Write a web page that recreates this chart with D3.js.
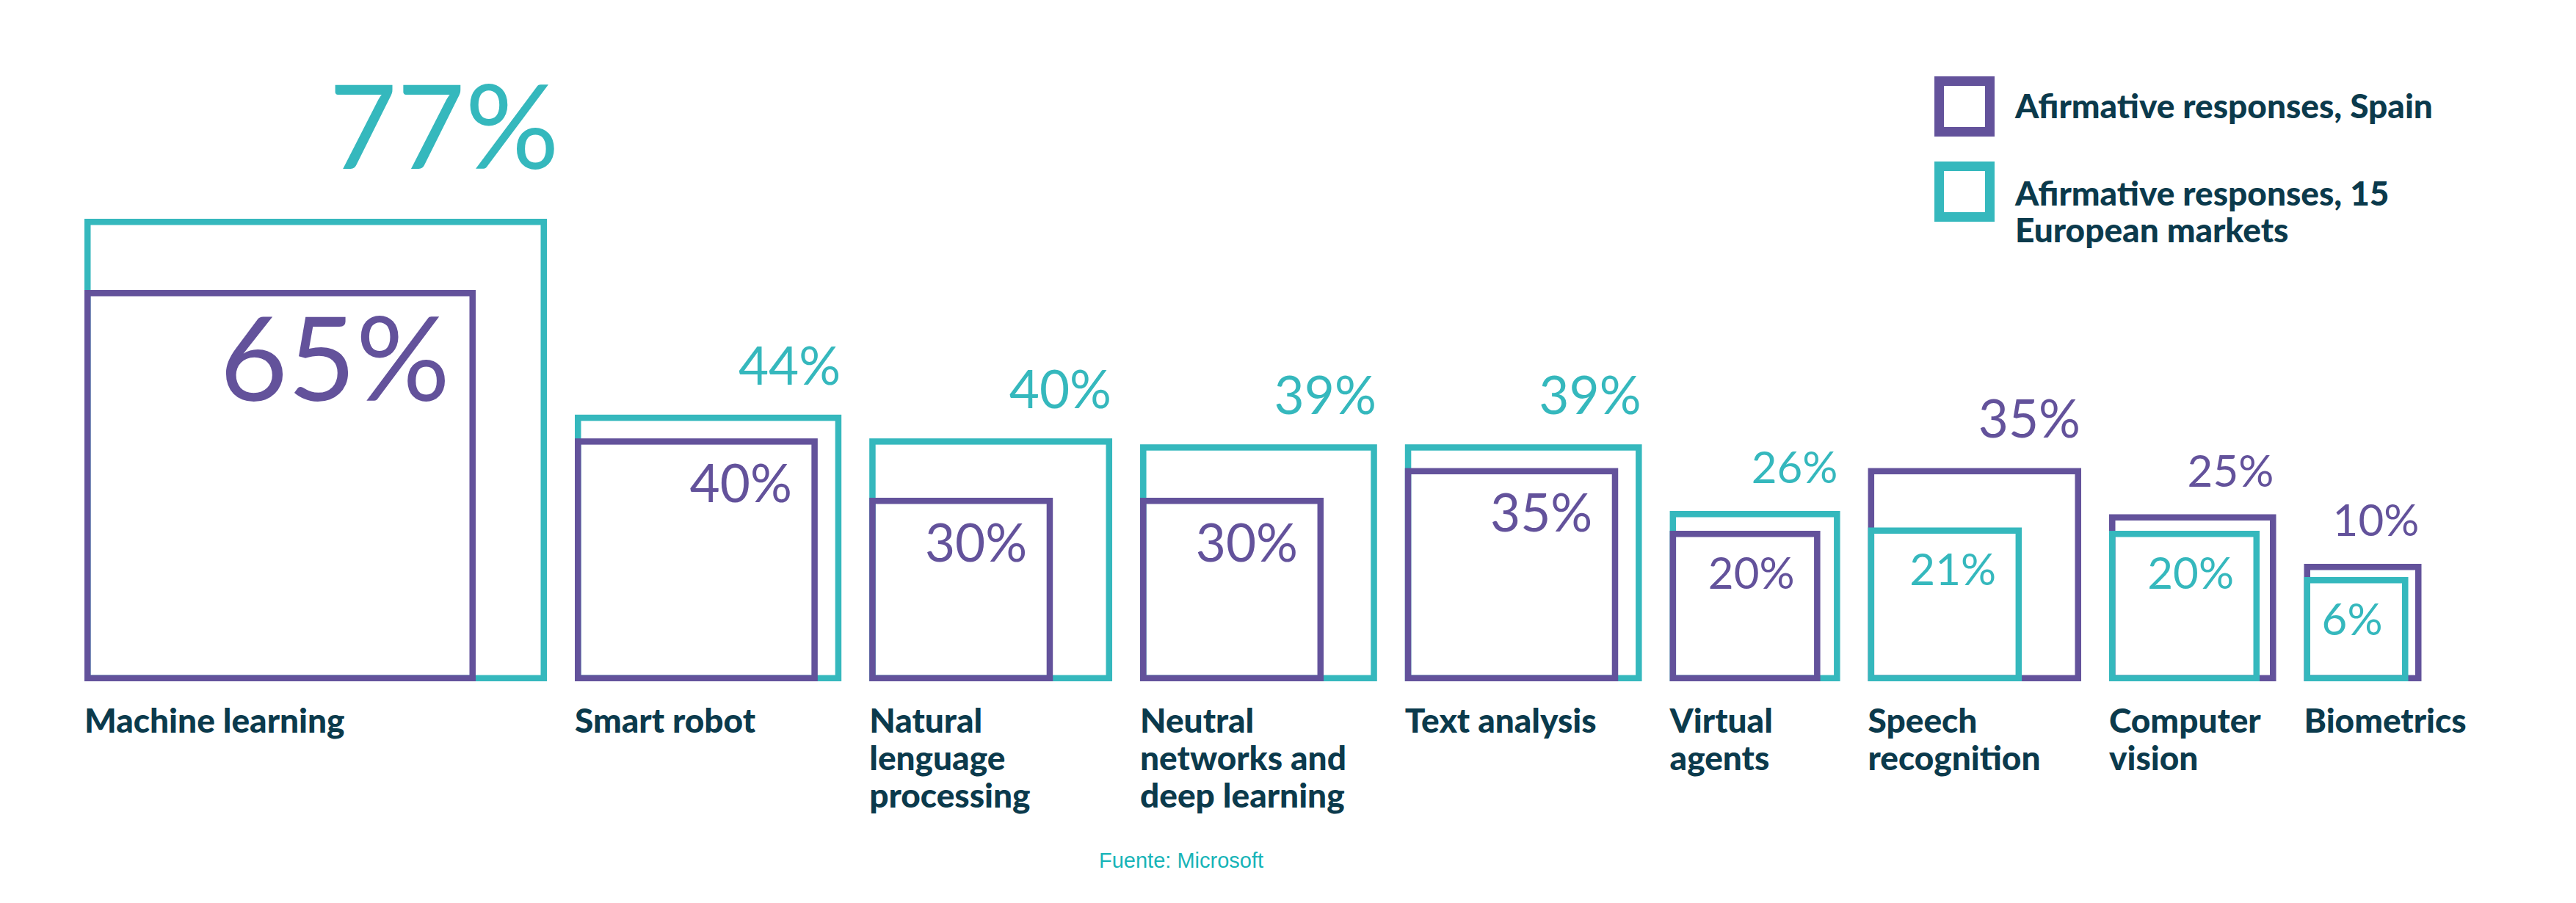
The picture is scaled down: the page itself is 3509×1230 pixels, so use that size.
<!DOCTYPE html>
<html>
<head>
<meta charset="utf-8">
<script src="https://cdn.jsdelivr.net/npm/d3@7/dist/d3.min.js"></script>
<style>
  body { margin: 0; background: #fff; }
  svg text { font-family: Lato, "Open Sans", sans-serif; }
</style>
</head>
<body>
<div id="chart"></div>
<script>
// category labels, one entry per printed line
const categories = [
    ["Machine learning"],
    ["Smart robot"],
    ["Natural", "lenguage", "processing"],
    ["Neutral", "networks and", "deep learning"],
    ["Text analysis"],
    ["Virtual", "agents"],
    ["Speech", "recognition"],
    ["Computer", "vision"],
    ["Biometrics"]
];

// % of afirmative responses
const spain = [65, 40, 30, 30, 35, 20, 35, 25, 10];
const europe = [77, 44, 40, 39, 39, 26, 21, 20, 6];

const legendLabels = [
    ["Afirmative responses, Spain"],
    ["Afirmative responses, 15", "European markets"]
];
const sourceText = "Fuente: Microsoft";

(function() {
    const width = 3509
    const height = 1230

    const purple = "#63529b"
    const teal = "#35b8bd"
    const navy = "#0b3a4c"
    const sw = 8.5          // box stroke
    const baseY = 928       // common bottom of all boxes
    const left0 = 115
    const gap = 38

    // box side from value (small values get a minimum size so the labels fit)
    const side = d3.scaleLinear().domain([0, 30, 77]).range([115, 250, 630])
    // label size from value
    const fontSize = d3.scaleThreshold().domain([30, 60]).range([60, 71, 160])

    const svg = d3.select("#chart")
        .append("svg")
        .attr("width", width)
        .attr("height", height)

    svg.append("rect")
        .attr("width", width)
        .attr("height", height)
        .attr("fill", "#fff")

    // place the groups one after the other
    let x = left0
    const rows = categories.map((lines, i) => {
        const r = { lines: lines, es: spain[i], eu: europe[i], x: x }
        x += side(Math.max(r.es, r.eu)) + gap
        return r
    })

    const g = svg.selectAll("g.cat")
        .data(rows)
        .join("g")
        .attr("class", "cat")
        .attr("transform", d => `translate(${d.x},0)`)

    g.each(function(d) {
        const sel = d3.select(this)
        // bigger box first, smaller one drawn on top
        const boxes = [{ v: d.eu, c: teal }, { v: d.es, c: purple }]
            .sort((a, b) => b.v - a.v)

        sel.selectAll("rect")
            .data(boxes)
            .join("rect")
            .attr("x", sw / 2)
            .attr("y", b => baseY - side(b.v) + sw / 2)
            .attr("width", b => side(b.v) - sw)
            .attr("height", b => side(b.v) - sw)
            .attr("fill", "none")
            .attr("stroke", b => b.c)
            .attr("stroke-width", sw)

        const big = boxes[0]
        const small = boxes[1]

        // value above the big box
        const fb = fontSize(big.v)
        sel.append("text")
            .attr("x", side(big.v) + (fb - 71) * 0.2 - 1)
            .attr("y", baseY - side(big.v) - (0.3 * fb + 20))
            .attr("text-anchor", "end")
            .attr("font-size", fb)
            .attr("font-weight", 400)
            .attr("fill", big.c)
            .text(big.v + "%")

        // value inside the small box
        const fs = fontSize(small.v)
        sel.append("text")
            .attr("x", side(small.v) - 35)
            .attr("y", baseY - side(small.v) + fs * 0.716 + 36)
            .attr("text-anchor", "end")
            .attr("font-size", fs)
            .attr("font-weight", 400)
            .attr("fill", small.c)
            .text(small.v + "%")

        // category label
        sel.append("text")
            .attr("x", 0)
            .attr("y", baseY + 70)
            .attr("font-size", 46)
            .attr("font-weight", 900)
            .attr("fill", navy)
            .selectAll("tspan")
            .data(d.lines)
            .join("tspan")
            .attr("x", 0)
            .attr("dy", (t, j) => j === 0 ? 0 : 51)
            .text(t => t)
    })

    // legend
    const legendY = [104, 220]
    const legendColors = [purple, teal]
    const lg = svg.selectAll("g.legend")
        .data(legendLabels)
        .join("g")
        .attr("class", "legend")
        .attr("transform", (d, i) => `translate(2635,${legendY[i]})`)

    lg.append("rect")
        .attr("x", 6.5)
        .attr("y", 6.5)
        .attr("width", 69)
        .attr("height", 69)
        .attr("fill", "none")
        .attr("stroke", (d, i) => legendColors[i])
        .attr("stroke-width", 13)

    lg.append("text")
        .attr("x", 110)
        .attr("y", (d, i) => i === 0 ? 57 : 60)
        .attr("font-size", 46)
        .attr("font-weight", 900)
        .attr("fill", navy)
        .selectAll("tspan")
        .data(d => d)
        .join("tspan")
        .attr("x", 110)
        .attr("dy", (t, j) => j === 0 ? 0 : 50)
        .text(t => t)

    // source
    svg.append("text")
        .attr("x", 1497)
        .attr("y", 1182)
        .attr("font-size", 29)
        .style("font-family", "'Liberation Sans', Arial, sans-serif")
        .attr("fill", "#17b4b8")
        .text(sourceText)
})();
</script>
</body>
</html>
